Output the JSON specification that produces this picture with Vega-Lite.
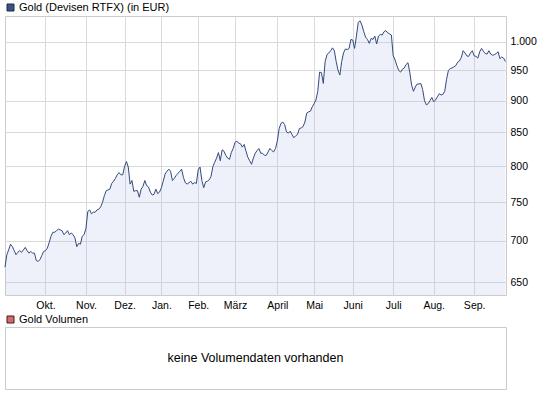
{
  "$schema": "https://vega.github.io/schema/vega-lite/v6.json",
  "padding": {"left": 2, "top": 1, "right": 0, "bottom": 0},
  "background": "#ffffff",
  "datasets": {
    "gold": [
      {"tag":0,"kurs":668},{"tag":1,"kurs":683},{"tag":2,"kurs":689},{"tag":3,"kurs":696},{"tag":4,"kurs":693},{"tag":5,"kurs":688},{"tag":6,"kurs":683},{"tag":7,"kurs":686},{"tag":8,"kurs":688},{"tag":9,"kurs":686},
      {"tag":10,"kurs":689},{"tag":11,"kurs":692},{"tag":12,"kurs":688},{"tag":13,"kurs":685},{"tag":14,"kurs":687},{"tag":15,"kurs":685},{"tag":16,"kurs":685},{"tag":17,"kurs":676},{"tag":18,"kurs":675},{"tag":19,"kurs":677},
      {"tag":20,"kurs":682},{"tag":21,"kurs":687},{"tag":22,"kurs":688},{"tag":23,"kurs":691},{"tag":24,"kurs":698},{"tag":25,"kurs":706},{"tag":26,"kurs":711},{"tag":27,"kurs":711},{"tag":28,"kurs":713},{"tag":29,"kurs":715},
      {"tag":30,"kurs":714},{"tag":31,"kurs":713},{"tag":32,"kurs":708},{"tag":33,"kurs":710},{"tag":34,"kurs":713},{"tag":35,"kurs":708},{"tag":36,"kurs":710},{"tag":37,"kurs":708},{"tag":38,"kurs":704},{"tag":39,"kurs":693},
      {"tag":40,"kurs":697},{"tag":41,"kurs":696},{"tag":42,"kurs":706},{"tag":43,"kurs":708},{"tag":44,"kurs":716},{"tag":45,"kurs":738},{"tag":46,"kurs":740},{"tag":47,"kurs":735},{"tag":48,"kurs":737},{"tag":49,"kurs":737},
      {"tag":50,"kurs":740},{"tag":51,"kurs":741},{"tag":52,"kurs":744},{"tag":53,"kurs":750},{"tag":54,"kurs":759},{"tag":55,"kurs":766},{"tag":56,"kurs":767},{"tag":57,"kurs":768},{"tag":58,"kurs":776},{"tag":59,"kurs":779},
      {"tag":60,"kurs":783},{"tag":61,"kurs":788},{"tag":62,"kurs":791},{"tag":63,"kurs":788},{"tag":64,"kurs":788},{"tag":65,"kurs":800},{"tag":66,"kurs":807},{"tag":67,"kurs":799},{"tag":68,"kurs":775},{"tag":69,"kurs":780},
      {"tag":70,"kurs":765},{"tag":71,"kurs":766},{"tag":72,"kurs":766},{"tag":73,"kurs":757},{"tag":74,"kurs":768},{"tag":75,"kurs":772},{"tag":76,"kurs":780},{"tag":77,"kurs":773},{"tag":78,"kurs":771},{"tag":79,"kurs":764},
      {"tag":80,"kurs":760},{"tag":81,"kurs":761},{"tag":82,"kurs":768},{"tag":83,"kurs":762},{"tag":84,"kurs":764},{"tag":85,"kurs":770},{"tag":86,"kurs":779},{"tag":87,"kurs":789},{"tag":88,"kurs":793},{"tag":89,"kurs":796},
      {"tag":90,"kurs":793},{"tag":91,"kurs":780},{"tag":92,"kurs":783},{"tag":93,"kurs":787},{"tag":94,"kurs":790},{"tag":95,"kurs":793},{"tag":96,"kurs":796},{"tag":97,"kurs":784},{"tag":98,"kurs":777},{"tag":99,"kurs":775},
      {"tag":100,"kurs":777},{"tag":101,"kurs":779},{"tag":102,"kurs":775},{"tag":103,"kurs":777},{"tag":104,"kurs":776},{"tag":105,"kurs":795},{"tag":106,"kurs":799},{"tag":107,"kurs":780},{"tag":108,"kurs":770},{"tag":109,"kurs":778},
      {"tag":110,"kurs":779},{"tag":111,"kurs":781},{"tag":112,"kurs":786},{"tag":113,"kurs":800},{"tag":114,"kurs":806},{"tag":115,"kurs":812},{"tag":116,"kurs":820},{"tag":117,"kurs":808},{"tag":118,"kurs":824},{"tag":119,"kurs":822},
      {"tag":120,"kurs":816},{"tag":121,"kurs":812},{"tag":122,"kurs":810},{"tag":123,"kurs":820},{"tag":124,"kurs":826},{"tag":125,"kurs":835},{"tag":126,"kurs":837},{"tag":127,"kurs":834},{"tag":128,"kurs":833},{"tag":129,"kurs":828},
      {"tag":130,"kurs":832},{"tag":131,"kurs":822},{"tag":132,"kurs":813},{"tag":133,"kurs":808},{"tag":134,"kurs":803},{"tag":135,"kurs":812},{"tag":136,"kurs":819},{"tag":137,"kurs":823},{"tag":138,"kurs":826},{"tag":139,"kurs":819},
      {"tag":140,"kurs":819},{"tag":141,"kurs":816},{"tag":142,"kurs":816},{"tag":143,"kurs":821},{"tag":144,"kurs":826},{"tag":145,"kurs":823},{"tag":146,"kurs":821},{"tag":147,"kurs":826},{"tag":148,"kurs":837},{"tag":149,"kurs":856},
      {"tag":150,"kurs":864},{"tag":151,"kurs":866},{"tag":152,"kurs":862},{"tag":153,"kurs":851},{"tag":154,"kurs":849},{"tag":155,"kurs":852},{"tag":156,"kurs":847},{"tag":157,"kurs":842},{"tag":158,"kurs":845},{"tag":159,"kurs":847},
      {"tag":160,"kurs":856},{"tag":161,"kurs":857},{"tag":162,"kurs":859},{"tag":163,"kurs":866},{"tag":164,"kurs":880},{"tag":165,"kurs":882},{"tag":166,"kurs":883},{"tag":167,"kurs":890},{"tag":168,"kurs":895},{"tag":169,"kurs":901},
      {"tag":170,"kurs":915},{"tag":171,"kurs":947},{"tag":172,"kurs":946},{"tag":173,"kurs":928},{"tag":174,"kurs":965},{"tag":175,"kurs":977},{"tag":176,"kurs":980},{"tag":177,"kurs":984},{"tag":178,"kurs":989},{"tag":179,"kurs":984},
      {"tag":180,"kurs":965},{"tag":181,"kurs":950},{"tag":182,"kurs":942},{"tag":183,"kurs":965},{"tag":184,"kurs":980},{"tag":185,"kurs":987},{"tag":186,"kurs":986},{"tag":187,"kurs":988},{"tag":188,"kurs":1004},{"tag":189,"kurs":1003},
      {"tag":190,"kurs":988},{"tag":191,"kurs":1010},{"tag":192,"kurs":1035},{"tag":193,"kurs":1038},{"tag":194,"kurs":1030},{"tag":195,"kurs":1018},{"tag":196,"kurs":1008},{"tag":197,"kurs":1004},{"tag":198,"kurs":997},{"tag":199,"kurs":1006},
      {"tag":200,"kurs":1004},{"tag":201,"kurs":1010},{"tag":202,"kurs":996},{"tag":203,"kurs":1010},{"tag":204,"kurs":1013},{"tag":205,"kurs":1012},{"tag":206,"kurs":1018},{"tag":207,"kurs":1020},{"tag":208,"kurs":1016},{"tag":209,"kurs":1014},
      {"tag":210,"kurs":1012},{"tag":211,"kurs":975},{"tag":212,"kurs":968},{"tag":213,"kurs":958},{"tag":214,"kurs":950},{"tag":215,"kurs":947},{"tag":216,"kurs":952},{"tag":217,"kurs":954},{"tag":218,"kurs":960},{"tag":219,"kurs":963},
      {"tag":220,"kurs":947},{"tag":221,"kurs":925},{"tag":222,"kurs":915},{"tag":223,"kurs":922},{"tag":224,"kurs":927},{"tag":225,"kurs":927},{"tag":226,"kurs":928},{"tag":227,"kurs":918},{"tag":228,"kurs":900},{"tag":229,"kurs":893},
      {"tag":230,"kurs":895},{"tag":231,"kurs":900},{"tag":232,"kurs":905},{"tag":233,"kurs":898},{"tag":234,"kurs":901},{"tag":235,"kurs":906},{"tag":236,"kurs":911},{"tag":237,"kurs":909},{"tag":238,"kurs":910},{"tag":239,"kurs":915},
      {"tag":240,"kurs":935},{"tag":241,"kurs":950},{"tag":242,"kurs":953},{"tag":243,"kurs":954},{"tag":244,"kurs":956},{"tag":245,"kurs":958},{"tag":246,"kurs":964},{"tag":247,"kurs":966},{"tag":248,"kurs":972},{"tag":249,"kurs":984},
      {"tag":250,"kurs":980},{"tag":251,"kurs":975},{"tag":252,"kurs":974},{"tag":253,"kurs":980},{"tag":254,"kurs":984},{"tag":255,"kurs":975},{"tag":256,"kurs":974},{"tag":257,"kurs":971},{"tag":258,"kurs":982},{"tag":259,"kurs":988},
      {"tag":260,"kurs":983},{"tag":261,"kurs":979},{"tag":262,"kurs":978},{"tag":263,"kurs":984},{"tag":264,"kurs":978},{"tag":265,"kurs":976},{"tag":266,"kurs":977},{"tag":267,"kurs":979},{"tag":268,"kurs":982},{"tag":269,"kurs":970},
      {"tag":270,"kurs":973},{"tag":271,"kurs":971},{"tag":272,"kurs":965}
    ],
    "volumen": [{"reihe": "Gold Volumen", "hinweis": "keine Volumendaten vorhanden"}]
  },
  "vconcat": [
    {
      "width": 501,
      "height": 279,
      "data": {"name": "gold"},
      "view": {"stroke": "#cccccc"},
      "encoding": {
        "x": {
          "field": "tag", "type": "quantitative",
          "scale": {"domain": [0, 272.3], "nice": false, "zero": false},
          "axis": {
            "title": null,
            "values": [22,44,65,85,105,125,148,168,189,211,233,255],
            "labelExpr": "['Okt.','Nov.','Dez.','Jan.','Feb.','März','April','Mai','Juni','Juli','Aug.','Sep.'][indexof([22,44,65,85,105,125,148,168,189,211,233,255], datum.value)]",
            "ticks": false, "domain": false, "labelPadding": 5,
            "grid": true, "gridColor": "#dadada",
            "labelFontSize": 10.5, "labelColor": "#000000", "labelFlush": false
          }
        },
        "y": {
          "field": "kurs", "type": "quantitative",
          "scale": {"type": "log", "domain": [635.5, 1047], "nice": false, "zero": false},
          "axis": {
            "orient": "right", "title": null,
            "values": [650,700,750,800,850,900,950,1000],
            "labelExpr": "datum.value == 1000 ? '1.000' : format(datum.value, 'd')",
            "ticks": false, "domain": false, "labelPadding": 4,
            "grid": true, "gridColor": "#dadada",
            "labelFontSize": 10.5, "labelColor": "#000000"
          }
        }
      },
      "layer": [
        {
          "mark": {"type": "area", "color": "#aab9e6", "fill": "#aab9e6", "opacity": 1, "fillOpacity": 0.2},
          "encoding": {"y2": {"datum": 635.5}}
        },
        {"mark": {"type": "line", "stroke": "#354a7c", "strokeWidth": 1}},
        {
          "transform": [{"filter": "false"}],
          "mark": {"type": "square", "opacity": 1, "stroke": "#1e2a48", "strokeWidth": 1},
          "encoding": {
            "color": {
              "field": "reihe", "type": "nominal",
              "scale": {"domain": ["Gold (Devisen RTFX) (in EUR)"], "range": ["#3d5283"]},
              "legend": {
                "title": null, "orient": "none", "legendX": 0, "legendY": -14,
                "symbolType": "square", "symbolSize": 49, "labelFontSize": 11,
                "labelColor": "#000000", "labelOffset": 3, "padding": 0,
                "symbolOpacity": 1, "symbolStrokeColor": "#1e2a48", "symbolStrokeWidth": 1
              }
            }
          }
        }
      ]
    },
    {
      "width": 501,
      "height": 62,
      "data": {"name": "volumen"},
      "view": {"stroke": "#cccccc", "fill": "#ffffff"},
      "layer": [
        {
          "mark": {"type": "text", "fontSize": 12.5, "color": "#000000"},
          "encoding": {"text": {"field": "hinweis", "type": "nominal"}}
        },
        {
          "transform": [{"filter": "false"}],
          "mark": {"type": "square", "opacity": 1, "stroke": "#3a1e1e", "strokeWidth": 1},
          "encoding": {
            "color": {
              "field": "reihe", "type": "nominal",
              "scale": {"domain": ["Gold Volumen"], "range": ["#d66a6a"]},
              "legend": {
                "title": null, "orient": "none", "legendX": 0, "legendY": -13,
                "symbolType": "square", "symbolSize": 49, "labelFontSize": 11,
                "labelColor": "#000000", "labelOffset": 3, "padding": 0,
                "symbolOpacity": 1, "symbolStrokeColor": "#3a1e1e", "symbolStrokeWidth": 1
              }
            }
          }
        }
      ]
    }
  ],
  "spacing": 2,
  "resolve": {"scale": {"color": "independent"}, "legend": {"color": "independent"}},
  "config": {
    "font": "Liberation Sans",
    "view": {"stroke": "#cccccc"},
    "axis": {"labelFont": "Liberation Sans"},
    "legend": {"labelFont": "Liberation Sans"},
    "text": {"font": "Liberation Sans"}
  }
}
